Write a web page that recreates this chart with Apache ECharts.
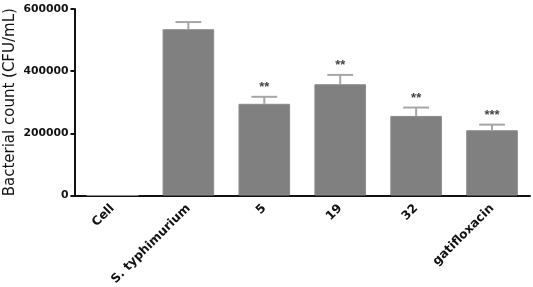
<!DOCTYPE html>
<html><head><meta charset="utf-8">
<script src="https://cdn.jsdelivr.net/npm/echarts@6/dist/echarts.min.js"></script>
<style>html,body{margin:0;padding:0;background:#fff}#c{width:533px;height:287px}</style>
</head><body><div id="c"></div>
<script>
const categories = ['Cell', 'S. typhimurium', '5', '19', '32', 'gatifloxacin'];
const values = [0, 535000, 295000, 358000, 256000, 210000];
const errors = [0, 23000, 22500, 30000, 27000, 18000];
const stars = ['', '', '**', '**', '**', '***'];
const yTicks = [0, 200000, 400000, 600000];

const chart = echarts.init(document.getElementById('c'), null, {renderer: 'canvas'});
const font = '"DejaVu Sans", Verdana, sans-serif';
chart.setOption({
  animation: false,
  grid: {left: 74.5, right: 3, top: 9, bottom: 91.5, containLabel: false, outerBoundsMode: 'none'},
  xAxis: {
    type: 'category', data: categories,
    axisLine: {lineStyle: {color: '#111', width: 2}},
    axisTick: {alignWithLabel: true, length: 5, lineStyle: {color: '#111', width: 2}},
    axisLabel: {rotate: 45, interval: 0, fontFamily: font, fontWeight: 'bold', fontSize: 12.2, color: '#111', margin: 11}
  },
  yAxis: {
    type: 'value', min: yTicks[0], max: yTicks[yTicks.length - 1], interval: 200000,
    name: 'Bacterial count (CFU/mL)', nameLocation: 'middle', nameGap: 57, nameMoveOverlap: false,
    nameTextStyle: {fontFamily: font, fontWeight: 'normal', fontSize: 15, color: '#111'},
    splitLine: {show: false},
    axisLine: {show: true, lineStyle: {color: '#111', width: 2}},
    axisTick: {show: true, length: 4, lineStyle: {color: '#111', width: 2}},
    axisLabel: {fontFamily: font, fontWeight: 'bold', fontSize: 10.8, color: '#111', margin: 6,
      formatter: v => String(v)}
  },
  series: [{
    type: 'bar', data: values, barWidth: '68%',
    itemStyle: {color: '#808080', borderColor: '#8c8c8c', borderWidth: 1}
  }, {
    type: 'custom',
    data: values.map((v, i) => [i, v, errors[i]]),
    z: 3,
    renderItem: function (params, api) {
      const i = api.value(0), v = api.value(1), e = api.value(2);
      if (!v) return null;
      const top = api.coord([i, v + e]);
      const base = api.coord([i, v]);
      const half = api.size([1, 0])[0] * 0.17;
      const st = {stroke: '#a6a6a6', lineWidth: 2};
      const children = [
        {type: 'line', shape: {x1: top[0], y1: base[1], x2: top[0], y2: top[1]}, style: st},
        {type: 'line', shape: {x1: top[0] - half, y1: top[1], x2: top[0] + half, y2: top[1]}, style: st}
      ];
      const s = stars[i];
      if (s) children.push({type: 'text', x: top[0], y: top[1] - 3,
        style: {text: s, textAlign: 'center', textVerticalAlign: 'bottom', font: 'bold 13px "Liberation Sans", Arial, sans-serif', fill: '#444'}});
      return {type: 'group', children};
    }
  }]
});
</script></body></html>
